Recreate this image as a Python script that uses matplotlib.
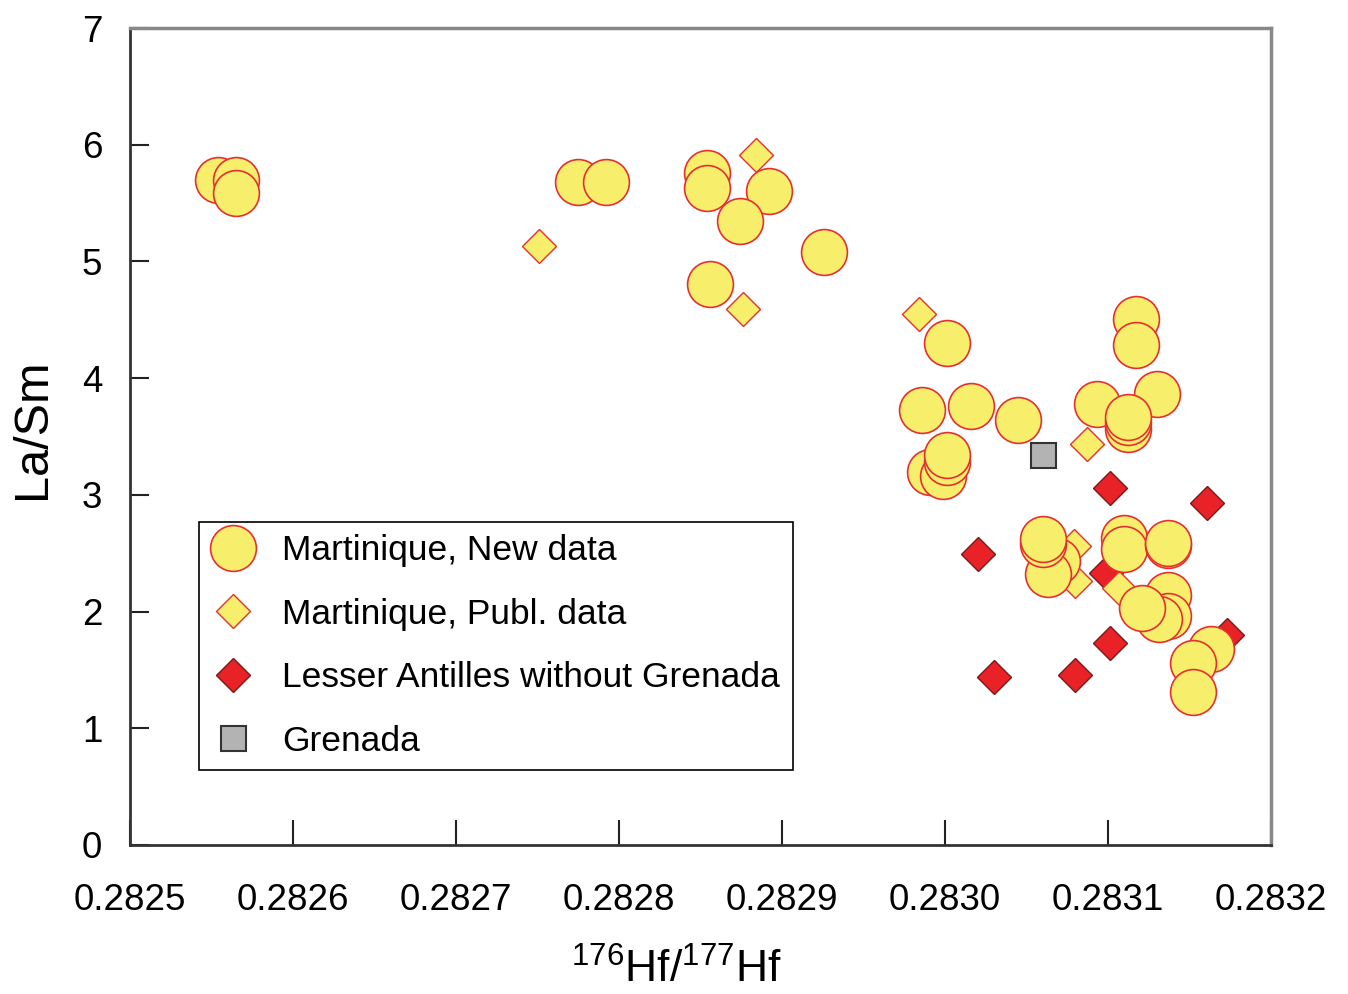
import numpy as np
import matplotlib
matplotlib.use("Agg")
import matplotlib.pyplot as plt
from matplotlib.ticker import FormatStrFormatter

plt.rcParams['font.family'] = ['Liberation Sans', 'DejaVu Sans']
plt.rcParams['mathtext.fontset'] = 'custom'
plt.rcParams['mathtext.rm'] = 'Liberation Sans'
plt.rcParams['mathtext.it'] = 'Liberation Sans'

# Martinique, new data
new_hf = [0.282554, 0.282565, 0.282565, 0.282775, 0.282792, 0.282854, 0.282854,
          0.282892, 0.282874, 0.282926, 0.282856, 0.283001, 0.283117, 0.283117,
          0.282986, 0.283016, 0.283045, 0.283093, 0.283130, 0.283112, 0.283112,
          0.283112, 0.282991, 0.282999, 0.283001, 0.283001, 0.283069, 0.283063,
          0.283060, 0.283060, 0.283110, 0.283110, 0.283137, 0.283137, 0.283137,
          0.283137, 0.283131, 0.283121, 0.283163, 0.283152, 0.283152]
new_lasm = [5.70, 5.70, 5.59, 5.68, 5.68, 5.76, 5.63,
            5.60, 5.35, 5.08, 4.81, 4.30, 4.51, 4.28,
            3.73, 3.76, 3.64, 3.78, 3.86, 3.56, 3.62,
            3.67, 3.20, 3.16, 3.28, 3.34, 2.43, 2.32,
            2.58, 2.62, 2.63, 2.54, 2.57, 2.59, 2.14,
            1.96, 1.94, 2.03, 1.68, 1.56, 1.31]

# Martinique, published data
publ_hf = [0.282751, 0.282884, 0.282876, 0.282984, 0.283087, 0.283079, 0.283080, 0.283107]
publ_lasm = [5.13, 5.91, 4.59, 4.55, 3.44, 2.56, 2.26, 2.20]

# Lesser Antilles without Grenada
la_hf = [0.283101, 0.283161, 0.283020, 0.283101, 0.283030, 0.283080, 0.283099, 0.283173]
la_lasm = [3.06, 2.93, 2.49, 1.73, 1.44, 1.46, 2.33, 1.80]

# Grenada
gr_hf = [0.283060]
gr_lasm = [3.34]

xticks = [0.2825, 0.2826, 0.2827, 0.2828, 0.2829, 0.2830, 0.2831, 0.2832]
yticks = [0, 1, 2, 3, 4, 5, 6, 7]

yellow = '#F7EF6C'
red_edge = '#E53030'

fig = plt.figure(figsize=(13.48, 9.94), dpi=100)
ax = fig.add_axes([130 / 1348, 1 - 845 / 994, 1141 / 1348, 817 / 994])

ax.plot(la_hf, la_lasm, 'D', ms=17, mfc='#E82226', mec='#7A1A1A', mew=1.0,
        label='Lesser Antilles without Grenada', zorder=3)
ax.plot(gr_hf, gr_lasm, 's', ms=18, mfc='#B3B3B3', mec='#333333', mew=1.5,
        label='Grenada', zorder=3)
ax.plot(publ_hf, publ_lasm, 'D', ms=17, mfc=yellow, mec=red_edge, mew=1.0,
        label='Martinique, Publ. data', zorder=4)
ax.plot(new_hf, new_lasm, 'o', ms=33, mfc=yellow, mec=red_edge, mew=1.2,
        label='Martinique, New data', zorder=5)

ax.set_xlim(0.2825, 0.2832)
ax.set_ylim(0, 7)
ax.set_xticks(xticks)
ax.set_yticks(yticks)
ax.xaxis.set_major_formatter(FormatStrFormatter('%.4f'))
ax.tick_params(axis='x', direction='in', length=18, width=1.5, color='#222222',
               labelsize=26.5, pad=27)
ax.tick_params(axis='y', direction='in', length=14, width=1.5, color='#222222',
               labelsize=26.5, pad=20)

for side in ['left', 'bottom']:
    ax.spines[side].set_color('#333333')
    ax.spines[side].set_linewidth(2)
for side in ['top', 'right']:
    ax.spines[side].set_color('#888888')
    ax.spines[side].set_linewidth(2.5)

ax.set_xlabel(r'$^{176}$Hf/$^{177}$Hf', fontsize=32)
ax.xaxis.set_label_coords(0.479, -0.127)
ax.set_ylabel('La/Sm', fontsize=35)
ax.yaxis.set_label_coords(-0.066, 0.51)

handles, labels = ax.get_legend_handles_labels()
order = [3, 2, 0, 1]
leg = ax.legend([handles[i] for i in order], [labels[i] for i in order],
                loc='lower left', bbox_to_anchor=(0.0605, 0.0918), borderaxespad=0,
                fontsize=25.5, numpoints=1, frameon=True, fancybox=False,
                edgecolor='black', framealpha=1, borderpad=0.35,
                handlelength=1.2, handletextpad=0.8, labelspacing=0.86)
leg.get_frame().set_linewidth(1.2)

fig.savefig('out.png', dpi=100)
